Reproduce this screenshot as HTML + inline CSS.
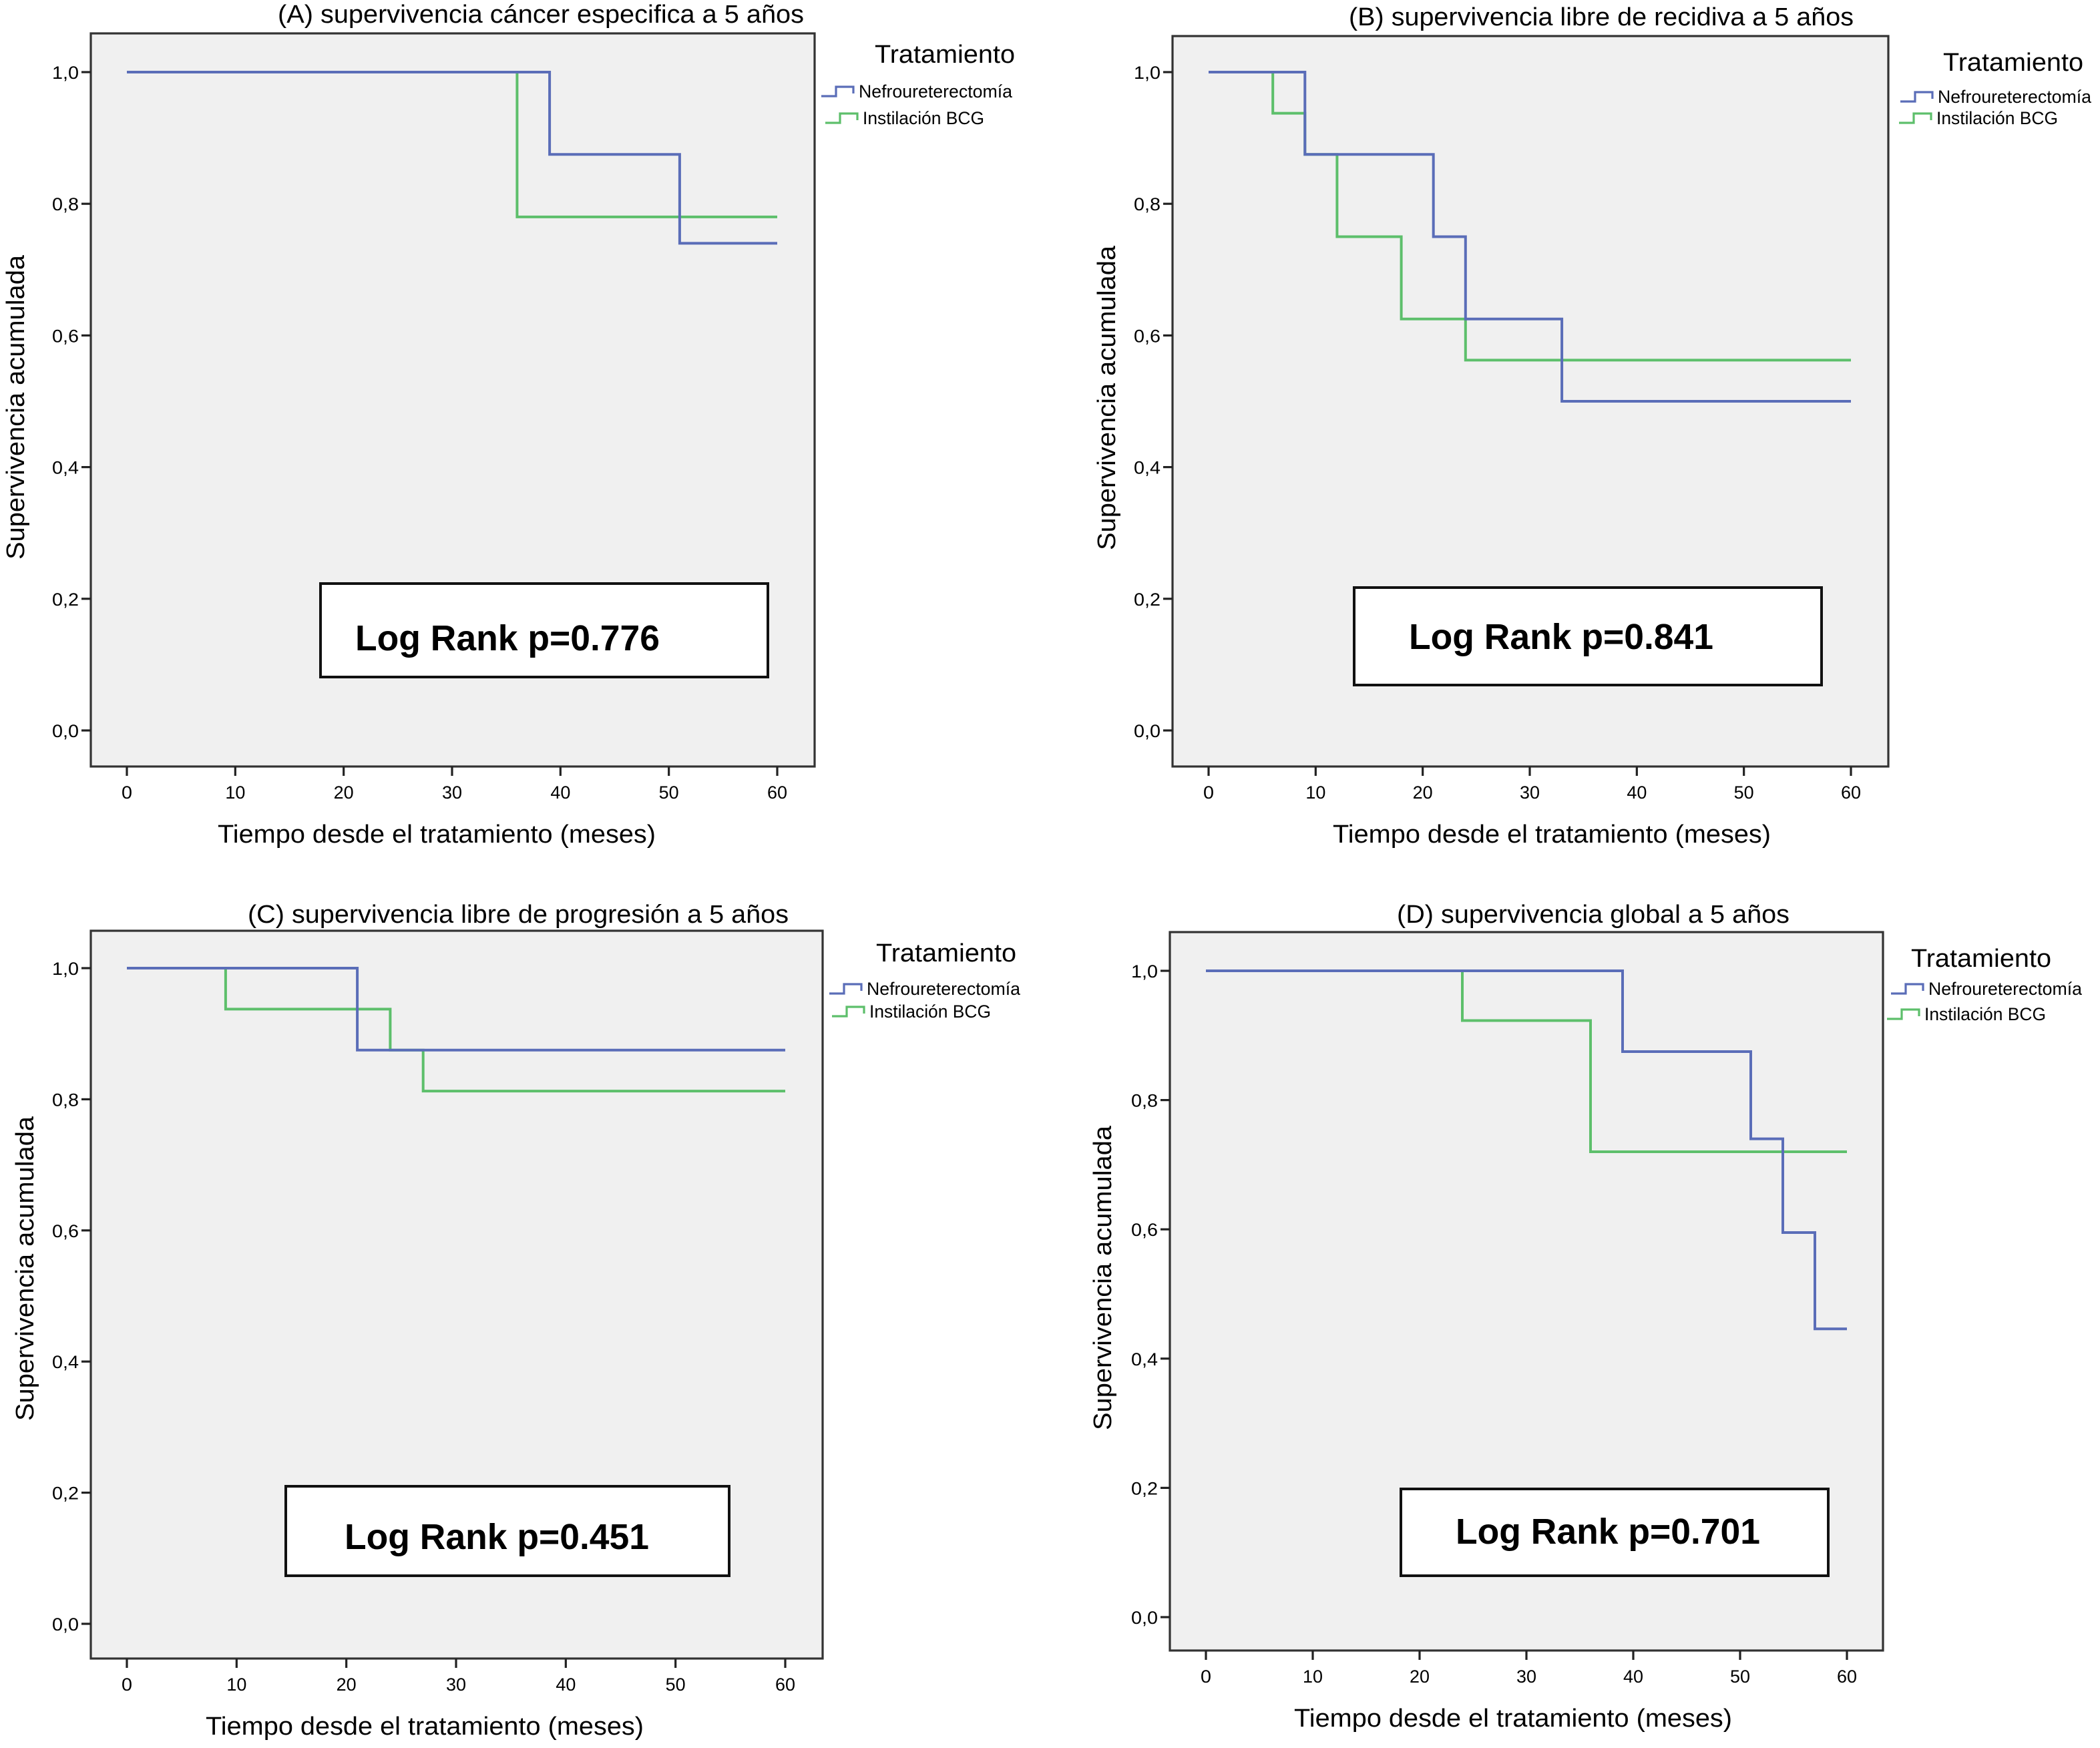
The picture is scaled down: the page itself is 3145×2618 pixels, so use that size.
<!DOCTYPE html>
<html><head><meta charset="utf-8">
<style>
html,body{margin:0;padding:0;background:#fff;}
svg{display:block;}
text{font-family:"Liberation Sans",sans-serif;fill:#000;}
</style></head>
<body>
<svg id="fig" xmlns="http://www.w3.org/2000/svg" width="3145" height="2618" viewBox="0 0 1572.5 1309"></svg>
<script>
// ---- data (time in months, survival) ----
const xTicks = [0,10,20,30,40,50,60];
const yTicks = [0,0.2,0.4,0.6,0.8,1.0];
const yTickLabels = ["0,0","0,2","0,4","0,6","0,8","1,0"];
const titles = ["(A) supervivencia cáncer especifica a 5 años","(B) supervivencia libre de recidiva a 5 años","(C) supervivencia libre de progresión a 5 años","(D) supervivencia global a 5 años"];
const pValues = ["Log Rank p=0.776","Log Rank p=0.841","Log Rank p=0.451","Log Rank p=0.701"];
const seriesNames = ["Nefroureterectomía","Instilación BCG"];
// step curves: change times and survival after each step
const aBlueT = [0,39,51,60];  const aBlueS = [1,0.875,0.74,0.74];
const aGreenT = [0,36,60];    const aGreenS = [1,0.78,0.78];
const bBlueT = [0,9,21,24,33,60];     const bBlueS = [1,0.875,0.75,0.625,0.5,0.5];
const bGreenT = [0,6,9,12,18,24,60];  const bGreenS = [1,0.9375,0.875,0.75,0.625,0.5625,0.5625];
const cBlueT = [0,21,60];       const cBlueS = [1,0.875,0.875];
const cGreenT = [0,9,24,27,60]; const cGreenS = [1,0.9375,0.875,0.8125,0.8125];
const dBlueT = [0,39,51,54,57,60]; const dBlueS = [1,0.875,0.74,0.595,0.446,0.446];
const dGreenT = [0,24,36,60];      const dGreenS = [1,0.923,0.72,0.72];

const NS="http://www.w3.org/2000/svg";
const svg=document.getElementById('fig');
function mk(tag,attrs,parent,txt){const e=document.createElementNS(NS,tag);for(const k in attrs)e.setAttribute(k,attrs[k]);if(txt!==undefined)e.textContent=txt;(parent||svg).appendChild(e);return e;}

const panels=[
 {box:[68,25,610,574],x0:95,x60:582,y1:54,y0:547,title:[405,17,394],ylab:[12,305],xlab:[327,631,328],leg:[655,47,643,73,646,93],lr:[240,437,575,507,266,487],blue:[aBlueT,aBlueS],green:[aGreenT,aGreenS]},
 {box:[878,27,1414,574],x0:905,x60:1386,y1:54,y0:547,title:[1199,19,378],ylab:[829,298],xlab:[1162,631,328],leg:[1455,53,1451,77,1450,93],lr:[1014,440,1364,513,1055,486],blue:[bBlueT,bBlueS],green:[bGreenT,bGreenS]},
 {box:[68,697,616,1242],x0:95,x60:588,y1:725,y0:1216,title:[388,691,405],ylab:[19,950],xlab:[318,1299,328],leg:[656,720,649,745,651,762],lr:[214,1113,546,1180,258,1160],blue:[cBlueT,cBlueS],green:[cGreenT,cGreenS]},
 {box:[876,698,1410,1236],x0:903,x60:1383,y1:727,y0:1211,title:[1193,691,294],ylab:[826,957],xlab:[1133,1293,328],leg:[1431,724,1444,745,1441,764],lr:[1049,1115,1369,1180,1090,1156],blue:[dBlueT,dBlueS],green:[dGreenT,dGreenS]}
];
const letters=['a','b','c','d'];
panels.forEach((p,i)=>{
 const g=mk('g',{});
 
 
 const xs=t=>p.x0+(p.x60-p.x0)*t/60;
 const ys=s=>p.y0+(p.y1-p.y0)*s;
 const [bx1,by1,bx2,by2]=p.box;
 const bg=mk('rect',{x:bx1,y:by1,width:bx2-bx1,height:by2-by1,fill:'#f0f0f0',stroke:'#333','stroke-width':1.6},g);
 
 
 const t=mk('text',{x:p.title[0],y:p.title[1],'text-anchor':'middle','font-size':19,textLength:p.title[2],lengthAdjust:'spacingAndGlyphs'},g,titles[i]);
 
 
 // y ticks
 yTicks.forEach((v,k)=>{
  const y=ys(v);
  mk('line',{x1:bx1-7,x2:bx1,y1:y,y2:y,stroke:'#222','stroke-width':1.6},g);
  const tl=mk('text',{x:bx1-9,y:y+5,'text-anchor':'end','font-size':13.5,textLength:20,lengthAdjust:'spacingAndGlyphs'},g,yTickLabels[k]);
  
  
 });
 xTicks.forEach(v=>{
  const x=xs(v);
  mk('line',{x1:x,x2:x,y1:by2,y2:by2+7,stroke:'#222','stroke-width':1.6},g);
  const tl=mk('text',{x:x,y:by2+24,'text-anchor':'middle','font-size':13.5,textLength:v<10?8:15,lengthAdjust:'spacingAndGlyphs'},g,String(v));
  
  
 });
 const yl=mk('text',{x:0,y:0,'text-anchor':'middle','font-size':19,transform:`translate(${p.ylab[0]+6},${p.ylab[1]}) rotate(-90)`,textLength:228,lengthAdjust:'spacingAndGlyphs'},g,'Supervivencia acumulada');
 
 
 const xl=mk('text',{x:p.xlab[0],y:p.xlab[1],'text-anchor':'middle','font-size':19,textLength:p.xlab[2],lengthAdjust:'spacingAndGlyphs'},g,'Tiempo desde el tratamiento (meses)');
 
 
 // curves
 [['green','#5dbf6b',p.green],['blue','#5a6db8',p.blue]].forEach(([nm,col,[T,S]])=>{
  let d=`M${xs(T[0])},${ys(S[0])}`;
  for(let k=1;k<T.length;k++){d+=` H${xs(T[k])} V${ys(S[k])}`;}
  const pa=mk('path',{d:d,fill:'none',stroke:col,'stroke-width':2},g);
  
  
 });
 // legend
 const [lx,ly,e1x,e1y,e2x,e2y]=p.leg;
 const lt=mk('text',{x:lx,y:ly,'font-size':19,textLength:105,lengthAdjust:'spacingAndGlyphs'},g,'Tratamiento');
 
 
 [[e1x,e1y,'#5a6db8',0],[e2x,e2y,'#5dbf6b',1]].forEach(([ex,ey,col,k])=>{
  const sx=ex-28;
  mk('path',{d:`M${sx},${ey-1} H${sx+11} V${ey-8} H${sx+24} V${ey-3}`,fill:'none',stroke:col,'stroke-width':1.6},g);
  const et=mk('text',{x:ex,y:ey,'font-size':13.5,textLength:k===0?115:91,lengthAdjust:'spacingAndGlyphs'},g,seriesNames[k]);
  
  
 });
 // log rank box
 const [rx1,ry1,rx2,ry2,tx,ty]=p.lr;
 const rb=mk('rect',{x:rx1,y:ry1,width:rx2-rx1,height:ry2-ry1,fill:'#fff',stroke:'#111','stroke-width':2},g);
 
 
 const rt=mk('text',{x:tx,y:ty,'font-size':27,'font-weight':'bold',textLength:228,lengthAdjust:'spacingAndGlyphs'},g,pValues[i]);
 
 
});
</script>
</body></html>
